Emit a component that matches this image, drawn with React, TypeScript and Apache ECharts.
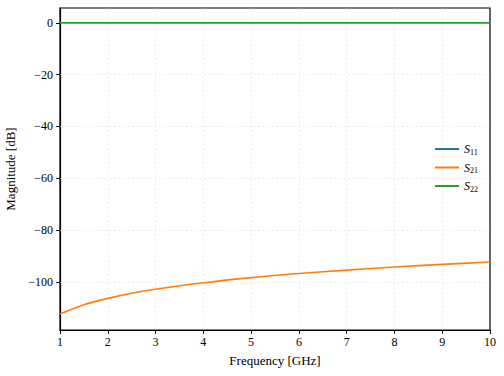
import React, { useEffect, useRef } from "react";
import * as echarts from "echarts";

const freqGHz = [1, 1.5, 2, 2.5, 3, 4, 5, 6, 7, 8, 9, 10];
const s11 = [0, 0, 0, 0, 0, 0, 0, 0, 0, 0, 0, 0];
const s21 = [-112.3, -108.8, -106.3, -104.3, -102.8, -100.3, -98.3, -96.7, -95.4, -94.2, -93.2, -92.3];
const s22 = [0, 0, 0, 0, 0, 0, 0, 0, 0, 0, 0, 0];
const yTicks = [-100, -80, -60, -40, -20, 0];
const xTicks = [1, 2, 3, 4, 5, 6, 7, 8, 9, 10];
const seriesNames = ["S11", "S21", "S22"];
const colors = ["#1f77b4", "#ff7f0e", "#2ca02c"];

const FONT = "Liberation Serif, DejaVu Serif, serif";

export default function App() {
  const ref = useRef<HTMLDivElement>(null);
  useEffect(() => {
    if (!ref.current) return;
    const chart = echarts.init(ref.current, null, { renderer: "svg" });
    const mk = (vals: number[]) => freqGHz.map((f, i) => [f, vals[i]]);
    const allVals = [s11, s21, s22];
    const gridStyle = { color: "#e3e3e3", type: [2, 2.5], width: 0.7 };
    const gridLines = [
      ...yTicks.filter((v) => v !== 0).map((v) => ({ yAxis: v })),
      ...xTicks.filter((v) => v > 1 && v < 10).map((v) => ({ xAxis: v })),
    ];
    chart.setOption({
      animation: false,
      backgroundColor: "#ffffff",
      textStyle: { fontFamily: FONT, color: "#000" },
      grid: {
        left: 60,
        top: 8,
        width: 430,
        height: 322,
        show: true,
        containLabel: false,
        outerBoundsMode: "none",
        borderColor: "#000",
        borderWidth: 1.2,
        backgroundColor: "transparent",
      },
      legend: {
        orient: "vertical",
        left: 430,
        top: 138,
        itemWidth: 24,
        itemHeight: 14,
        itemGap: 5.5,
        icon: "path://M0,6 L24,6 L24,8 L0,8 Z",
        data: seriesNames,
        itemStyle: { borderWidth: 0 },
        lineStyle: { type: "solid" },
        formatter: (name: string) => `{i|S}{s|${name.slice(1)}}`,
        textStyle: {
          fontFamily: FONT,
          rich: {
            i: { fontFamily: FONT, fontStyle: "italic", fontSize: 12, color: "#000" },
            s: { fontFamily: FONT, fontSize: 8, color: "#000", verticalAlign: "bottom", padding: [6, 0, 0, 0] },
          },
        },
      },
      xAxis: {
        type: "value",
        min: 1,
        max: 10,
        interval: 1,
        name: "Frequency [GHz]",
        nameLocation: "middle",
        nameGap: 24,
        nameTextStyle: { fontFamily: FONT, fontSize: 13, color: "#000" },
        axisLine: { show: true, onZero: false, lineStyle: { color: "#000", width: 1.2 } },
        axisTick: { show: true, length: 4, lineStyle: { color: "#000" } },
        axisLabel: { fontFamily: FONT, fontSize: 12, color: "#000", margin: 6 },
        splitLine: { show: false },
      },
      yAxis: {
        type: "value",
        min: -118.5,
        max: 5.7,
        name: "Magnitude [dB]",
        nameLocation: "middle",
        nameGap: 40,
        nameTextStyle: { fontFamily: FONT, fontSize: 13, color: "#000" },
        axisLine: { show: true, onZero: false, lineStyle: { color: "#000", width: 1.2 } },
        axisTick: { show: true, length: 4, customValues: yTicks, lineStyle: { color: "#000" } },
        axisLabel: {
          fontFamily: FONT,
          fontSize: 12,
          color: "#000",
          margin: 7,
          customValues: yTicks,
          formatter: (v: number) => (v < 0 ? "\u2212" + Math.abs(v) : String(v)),
        },
        splitLine: { show: false },
      },
      series: [
        ...seriesNames.map((n, i) => ({
          name: n,
          type: "line",
          z: 3,
          data: mk(allVals[i]),
          smooth: 0.3,
          showSymbol: false,
          color: colors[i],
          lineStyle: { width: 1.6, color: colors[i], type: "solid" },
          itemStyle: { color: colors[i] },
        })),
        {
          name: "gridlines",
          type: "line",
          data: [],
          silent: true,
          z: 1,
          color: "#e3e3e3",
          markLine: {
            silent: true,
            symbol: "none",
            z: 1,
            label: { show: false },
            lineStyle: gridStyle,
            emphasis: { disabled: true },
            data: gridLines,
          },
        },
      ],
    });
    return () => chart.dispose();
  }, []);
  return (
    <div
      ref={ref}
      style={{ position: "fixed", left: 0, top: 0, width: 504, height: 376, background: "#fff" }}
    />
  );
}
